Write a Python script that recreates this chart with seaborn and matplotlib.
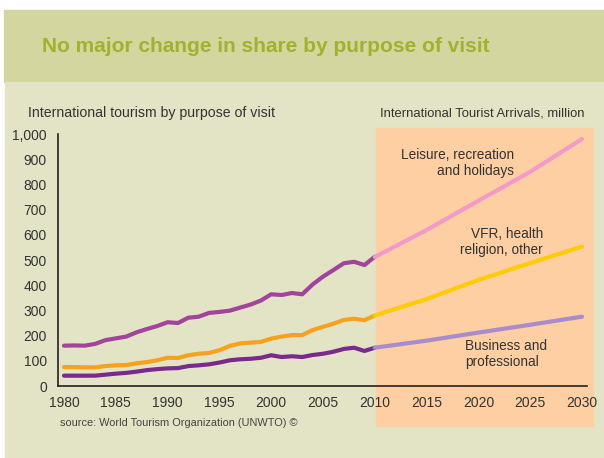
import matplotlib
matplotlib.use("Agg")
import matplotlib.pyplot as plt
from matplotlib.patches import Rectangle
import seaborn as sns
import pandas as pd

# ---- data ----
hist_years = list(range(1980, 2011))
leisure_hist = [160, 161, 160, 167, 182, 189, 196, 213, 226, 238, 253, 250, 271, 275, 290,
                294, 299, 311, 323, 339, 364, 361, 369, 364, 403, 434, 460, 487, 493, 480, 513]
vfr_hist = [75, 75, 74, 74, 79, 82, 83, 90, 95, 102, 112, 111, 122, 128, 131,
            142, 159, 169, 172, 175, 188, 196, 202, 202, 222, 235, 247, 262, 267, 261, 280]
business_hist = [41, 41, 41, 41, 45, 49, 52, 57, 63, 67, 70, 71, 79, 82, 86,
                 93, 102, 106, 108, 112, 122, 115, 118, 115, 123, 128, 136, 147, 152, 139, 152]

proj_years = [2010, 2015, 2020, 2025, 2030]
leisure_proj = [512, 619, 735, 850, 980]
vfr_proj = [280, 345, 421, 488, 553]
business_proj = [152, 180, 212, 243, 275]

x_ticks = [1980, 1985, 1990, 1995, 2000, 2005, 2010, 2015, 2020, 2025, 2030]
y_ticks = [0, 100, 200, 300, 400, 500, 600, 700, 800, 900, 1000]
y_tick_labels = ["0", "100", "200", "300", "400", "500", "600", "700", "800", "900", "1,000"]

title = "No major change in share by purpose of visit"
left_caption = "International tourism by purpose of visit"
right_caption = "International Tourist Arrivals, million"
source = "source: World Tourism Organization (UNWTO) \u00a9"

sns.set_theme(style="white")
plt.rcParams["font.family"] = ["Liberation Sans", "DejaVu Sans"]

W, H = 604, 458
fig = plt.figure(figsize=(W / 100, H / 100), dpi=100)
fig.patch.set_facecolor("white")

def px_rect(x0, y0, x1, y1, color):
    fig.patches.append(Rectangle((x0 / W, 1 - y1 / H), (x1 - x0) / W, (y1 - y0) / H,
                                 transform=fig.transFigure, color=color, zorder=-10))

px_rect(4, 10, 604, 82, "#d3d69e")
px_rect(5, 82, 604, 458, "#e3e4c5")

fig.text(266 / W, 1 - 47 / H, title, ha="center", va="center", fontsize=15,
         fontweight="bold", color="#a2b12e")

ax = fig.add_axes([58 / W, (H - 386) / H, (587 - 58) / W, 252 / H])
ax.set_facecolor("none")

# projection box
px_per_year = (582 - 64) / 50
x_box0 = 2010 + (375 - 374) / px_per_year
x_box1 = 1980 + (593 - 64) / px_per_year
ax.add_patch(Rectangle((x_box0, (386 - 426) / 0.252), x_box1 - x_box0,
                       (426 - 128) / 0.252, color="#fdcfa3", clip_on=False, zorder=0))

lw = 3.0
def draw(xs, ys, color):
    df = pd.DataFrame({"year": xs, "value": ys})
    sns.lineplot(data=df, x="year", y="value", ax=ax, color=color, lw=lw,
                 zorder=3, solid_capstyle="round", solid_joinstyle="round")

draw(hist_years, leisure_hist, "#a2449c")
draw(hist_years, vfr_hist, "#f7a11e")
draw(hist_years, business_hist, "#7a2a8c")
draw(proj_years, leisure_proj, "#f49ac8")
draw(proj_years, vfr_proj, "#ffcb05")
draw(proj_years, business_proj, "#a88ccc")

ax.set_xlim(1980 - 6 / px_per_year, 2030 + 5 / px_per_year)
ax.set_ylim(0, 1000)
ax.set_xticks(x_ticks)
ax.set_xticklabels([str(t) for t in x_ticks])
ax.set_yticks(y_ticks)
ax.set_yticklabels(y_tick_labels)
ax.set_xlabel("")
ax.set_ylabel("")
for s in ["top", "right"]:
    ax.spines[s].set_visible(False)
for s in ["left", "bottom"]:
    ax.spines[s].set_color("#222222")
    ax.spines[s].set_linewidth(1.2)
    ax.spines[s].set_zorder(5)
ax.tick_params(axis="both", which="both", direction="out", length=4, width=1,
               color="#222222", labelcolor="#333333", labelsize=10, pad=3)
ax.tick_params(axis="y", pad=4)

fig.text(28 / W, 1 - 113 / H, left_caption, ha="left", va="center",
         color="#333333", fontsize=10.2)
fig.text(380 / W, 1 - 113 / H, right_caption, ha="left", va="center",
         color="#333333", fontsize=9.4)
fig.text(60 / W, 1 - 423 / H, source, ha="left", va="center", color="#444444", fontsize=7.9)

ann = dict(color="#333333", fontsize=9.8, linespacing=1.1)
fig.text(514 / W, 1 - 163 / H, "Leisure, recreation\nand holidays", ha="right", va="center", **ann)
fig.text(543 / W, 1 - 242 / H, "VFR, health\nreligion, other", ha="right", va="center", **ann)
fig.text(465 / W, 1 - 354 / H, "Business and\nprofessional", ha="left", va="center", **ann)

fig.savefig("out.png", dpi=100, facecolor=fig.get_facecolor())
